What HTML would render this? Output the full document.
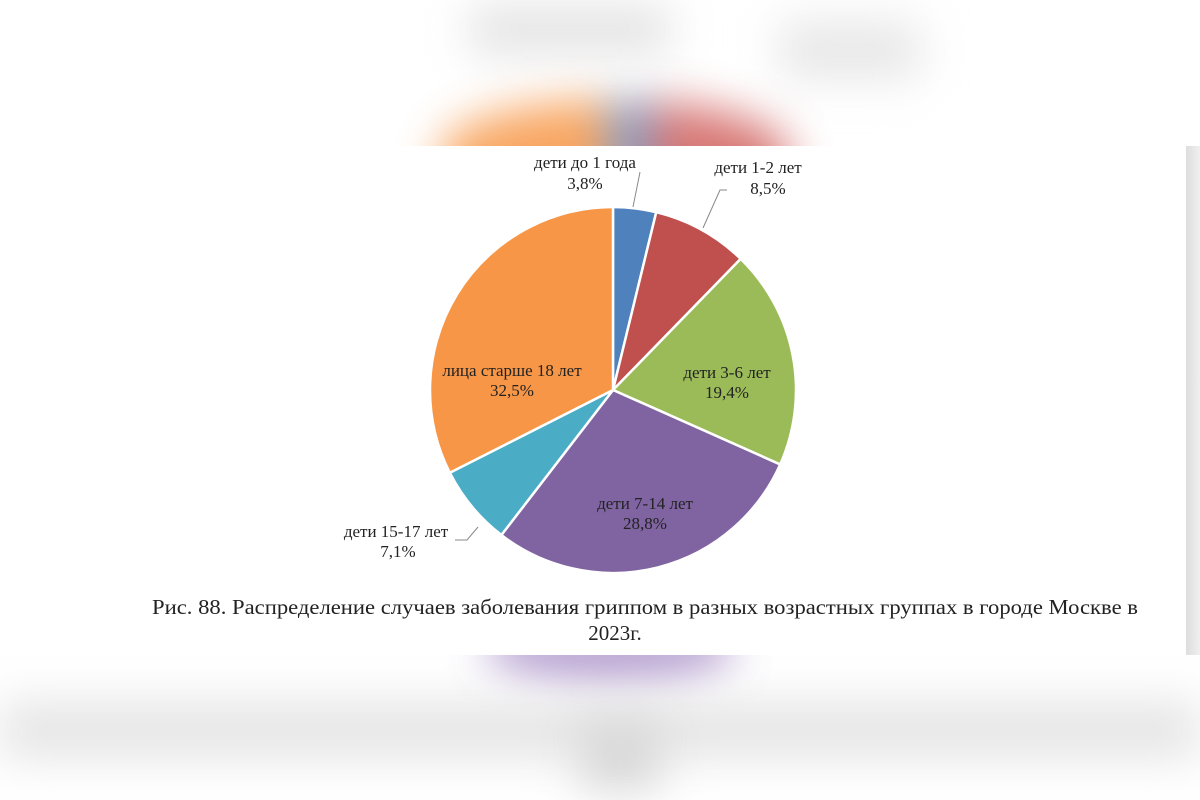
<!DOCTYPE html>
<html><head><meta charset="utf-8"><style>
body{margin:0;width:1200px;height:800px;overflow:hidden;background:#fff;position:relative;font-family:"Liberation Serif",serif}
.b{position:absolute;filter:blur(22px)}
#panel{position:absolute;left:0;top:146px;width:1200px;height:509px;background:#fff}
svg{position:absolute;left:0;top:0}
</style></head><body>
<div class="b" style="left:440px;top:100px;width:350px;height:110px;border-radius:50% 50% 0 0;background:linear-gradient(90deg,#f79646 0 48%,#6f8fc0 48% 60%,#d0605d 60%);opacity:.85"></div>
<div class="b" style="left:470px;top:5px;width:200px;height:50px;background:#e4e4e4"></div>
<div class="b" style="left:780px;top:20px;width:140px;height:60px;background:#e8e8e8"></div>
<div class="b" style="left:490px;top:630px;width:240px;height:50px;border-radius:0 0 50% 50%;background:#9a7cbf;opacity:.8"></div>
<div class="b" style="left:0;top:700px;width:1200px;height:60px;background:#e6e6e6"></div>
<div class="b" style="left:580px;top:720px;width:80px;height:70px;background:#d8d8d8"></div>
<div id="panel"></div>
<div style="position:absolute;left:1186px;top:146px;width:14px;height:509px;background:linear-gradient(90deg,#ddd,#f0f0f0)"></div>
<svg width="1200" height="800" id="s" font-family="Liberation Serif, serif" font-size="17" fill="#222">
<g id="pie"></g>
<g stroke="#888" stroke-width="1" fill="none">
<path d="M640 172 L633 207"/>
<path d="M727 190 L720 190 L703 228"/>
<path d="M455 540 L467 540 L478 527"/>
</g>
<g text-anchor="middle" lengthAdjust="spacingAndGlyphs">
<text x="585" y="168">дети до 1 года</text><text x="585" y="189">3,8%</text>
<text x="758" y="173">дети 1-2 лет</text><text x="768" y="194">8,5%</text>
<text x="727" y="378">дети 3-6 лет</text><text x="727" y="398">19,4%</text>
<text x="645" y="509">дети 7-14 лет</text><text x="645" y="529">28,8%</text>
<text x="396" y="537">дети 15-17 лет</text><text x="398" y="557">7,1%</text>
<text x="512" y="376">лица старше 18 лет</text><text x="512" y="396">32,5%</text>
<text x="645" y="614" font-size="21" textLength="986" lengthAdjust="spacingAndGlyphs">Рис. 88. Распределение случаев заболевания гриппом в разных возрастных группах в городе Москве в</text>
<text x="615" y="640" font-size="21">2023г.</text>
</g>
</svg>
<script>
var d=[[3.8,"#4f81bd"],[8.5,"#c0504d"],[19.4,"#9bbb59"],[28.8,"#8064a2"],[7.1,"#4bacc6"],[32.5,"#f79646"]];
var cx=613,cy=390,r=183,a=0,t=100.1,h="";
d.forEach(function(e){var b=a+e[0]/t*2*Math.PI;
var x1=cx+r*Math.sin(a),y1=cy-r*Math.cos(a),x2=cx+r*Math.sin(b),y2=cy-r*Math.cos(b);
h+='<path d="M'+cx+' '+cy+' L'+x1+' '+y1+' A'+r+' '+r+' 0 '+((b-a)>Math.PI?1:0)+' 1 '+x2+' '+y2+' Z" fill="'+e[1]+'" stroke="#fff" stroke-width="2.5"/>';a=b;});
document.getElementById("pie").innerHTML=h;
</script>
</body></html>
